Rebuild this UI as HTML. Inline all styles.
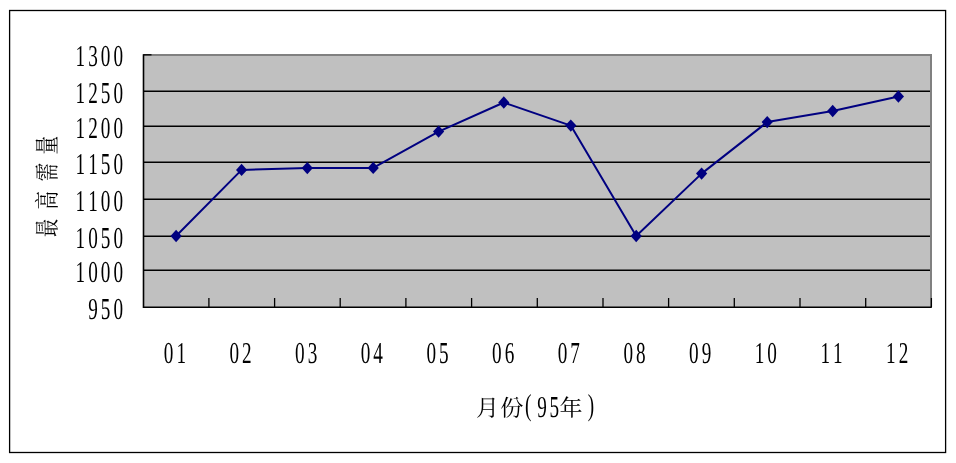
<!DOCTYPE html>
<html lang="zh-Hant"><head><meta charset="utf-8"><title>最高需量</title>
<style>html,body{margin:0;padding:0;background:#fff;}body{width:956px;height:463px;overflow:hidden;}svg{display:block;}text{text-rendering:geometricPrecision;}.n{font-family:"Liberation Serif","Noto Serif CJK SC",serif;font-size:30.4px;fill:#000;}.c{font-family:"Liberation Serif","Noto Serif CJK SC",serif;fill:#000;}</style></head><body>
<svg width="956" height="463" viewBox="0 0 956 463">
<rect x="0" y="0" width="956" height="463" fill="#fff"/>
<rect x="9.6" y="10.5" width="936" height="442" fill="none" stroke="#000" stroke-width="1.3"/>
<rect x="143.5" y="55.0" width="787.5" height="252.3" fill="#c0c0c0"/>
<path d="M143.5 55.0H931.0V307.3" fill="none" stroke="#808080" stroke-width="2"/>
<line x1="143.5" y1="91.3" x2="930.0" y2="91.3" stroke="#000" stroke-width="1.5"/>
<line x1="143.5" y1="126.3" x2="930.0" y2="126.3" stroke="#000" stroke-width="1.5"/>
<line x1="143.5" y1="162.2" x2="930.0" y2="162.2" stroke="#000" stroke-width="1.5"/>
<line x1="143.5" y1="199.3" x2="930.0" y2="199.3" stroke="#000" stroke-width="1.5"/>
<line x1="143.5" y1="236.2" x2="930.0" y2="236.2" stroke="#000" stroke-width="1.5"/>
<line x1="143.5" y1="270.2" x2="930.0" y2="270.2" stroke="#000" stroke-width="1.5"/>
<path d="M143.5 54.3V307.3H931.7" fill="none" stroke="#000" stroke-width="1.6"/>
<line x1="143.5" y1="54.8" x2="151.5" y2="54.8" stroke="#000" stroke-width="1.3"/>
<line x1="208.9" y1="298" x2="208.9" y2="307.3" stroke="#000" stroke-width="1.3"/>
<line x1="274.6" y1="298" x2="274.6" y2="307.3" stroke="#000" stroke-width="1.3"/>
<line x1="340.2" y1="298" x2="340.2" y2="307.3" stroke="#000" stroke-width="1.3"/>
<line x1="405.9" y1="298" x2="405.9" y2="307.3" stroke="#000" stroke-width="1.3"/>
<line x1="471.6" y1="298" x2="471.6" y2="307.3" stroke="#000" stroke-width="1.3"/>
<line x1="537.3" y1="298" x2="537.3" y2="307.3" stroke="#000" stroke-width="1.3"/>
<line x1="603.0" y1="298" x2="603.0" y2="307.3" stroke="#000" stroke-width="1.3"/>
<line x1="668.6" y1="298" x2="668.6" y2="307.3" stroke="#000" stroke-width="1.3"/>
<line x1="734.3" y1="298" x2="734.3" y2="307.3" stroke="#000" stroke-width="1.3"/>
<line x1="800.0" y1="298" x2="800.0" y2="307.3" stroke="#000" stroke-width="1.3"/>
<line x1="865.7" y1="298" x2="865.7" y2="307.3" stroke="#000" stroke-width="1.3"/>
<line x1="931.4" y1="298" x2="931.4" y2="307.3" stroke="#000" stroke-width="1.3"/>
<polyline fill="none" stroke="#000080" stroke-width="2" stroke-linejoin="round" points="176.1,236.0 241.6,169.9 307.3,168.1 373.2,167.9 438.6,131.6 503.8,102.5 570.8,125.6 636.2,236.0 701.6,173.6 767.2,122.1 832.7,111.0 898.4,96.5"/>
<path d="M176.1 229.8L181.7 236.0L176.1 242.2L170.5 236.0Z" fill="#000080"/>
<path d="M241.6 163.7L247.2 169.9L241.6 176.1L236.0 169.9Z" fill="#000080"/>
<path d="M307.3 161.9L312.9 168.1L307.3 174.3L301.7 168.1Z" fill="#000080"/>
<path d="M373.2 161.7L378.8 167.9L373.2 174.1L367.6 167.9Z" fill="#000080"/>
<path d="M438.6 125.4L444.2 131.6L438.6 137.8L433.0 131.6Z" fill="#000080"/>
<path d="M503.8 96.3L509.4 102.5L503.8 108.7L498.2 102.5Z" fill="#000080"/>
<path d="M570.8 119.4L576.4 125.6L570.8 131.8L565.2 125.6Z" fill="#000080"/>
<path d="M636.2 229.8L641.8 236.0L636.2 242.2L630.6 236.0Z" fill="#000080"/>
<path d="M701.6 167.4L707.2 173.6L701.6 179.8L696.0 173.6Z" fill="#000080"/>
<path d="M767.2 115.9L772.8 122.1L767.2 128.3L761.6 122.1Z" fill="#000080"/>
<path d="M832.7 104.8L838.3 111.0L832.7 117.2L827.1 111.0Z" fill="#000080"/>
<path d="M898.4 90.3L904.0 96.5L898.4 102.7L892.8 96.5Z" fill="#000080"/>
<text class="n" text-anchor="middle" transform="translate(0,66.2) scale(0.632,1)" x="127.22 147.15 167.09 187.03">1300</text>
<text class="n" text-anchor="middle" transform="translate(0,102.7) scale(0.632,1)" x="127.22 147.15 167.09 187.03">1250</text>
<text class="n" text-anchor="middle" transform="translate(0,137.7) scale(0.632,1)" x="127.22 147.15 167.09 187.03">1200</text>
<text class="n" text-anchor="middle" transform="translate(0,173.8) scale(0.632,1)" x="127.22 147.15 167.09 187.03">1150</text>
<text class="n" text-anchor="middle" transform="translate(0,210.6) scale(0.632,1)" x="127.22 147.15 167.09 187.03">1100</text>
<text class="n" text-anchor="middle" transform="translate(0,247.8) scale(0.632,1)" x="127.22 147.15 167.09 187.03">1050</text>
<text class="n" text-anchor="middle" transform="translate(0,281.9) scale(0.632,1)" x="127.22 147.15 167.09 187.03">1000</text>
<text class="n" text-anchor="middle" transform="translate(0,318.9) scale(0.632,1)" x="147.15 167.09 187.03">950</text>
<text class="n" text-anchor="middle" transform="translate(0,362.9) scale(0.632,1)" x="266.77 286.71">01</text>
<text class="n" text-anchor="middle" transform="translate(0,362.9) scale(0.632,1)" x="370.66 390.60">02</text>
<text class="n" text-anchor="middle" transform="translate(0,362.9) scale(0.632,1)" x="474.56 494.49">03</text>
<text class="n" text-anchor="middle" transform="translate(0,362.9) scale(0.632,1)" x="578.45 598.39">04</text>
<text class="n" text-anchor="middle" transform="translate(0,362.9) scale(0.632,1)" x="682.34 702.28">05</text>
<text class="n" text-anchor="middle" transform="translate(0,362.9) scale(0.632,1)" x="786.23 806.17">06</text>
<text class="n" text-anchor="middle" transform="translate(0,362.9) scale(0.632,1)" x="890.13 910.06">07</text>
<text class="n" text-anchor="middle" transform="translate(0,362.9) scale(0.632,1)" x="994.02 1013.96">08</text>
<text class="n" text-anchor="middle" transform="translate(0,362.9) scale(0.632,1)" x="1097.91 1117.85">09</text>
<text class="n" text-anchor="middle" transform="translate(0,362.9) scale(0.632,1)" x="1201.80 1221.74">10</text>
<text class="n" text-anchor="middle" transform="translate(0,362.9) scale(0.632,1)" x="1305.70 1325.63">11</text>
<text class="n" text-anchor="middle" transform="translate(0,362.9) scale(0.632,1)" x="1409.59 1429.53">12</text>
<g><text class="c" font-size="23" y="415.5" x="476 500.5">月份</text><text class="n" text-anchor="middle" transform="translate(0,416.5) scale(0.632,1)" x="835.76 857.59 876.90" y="-2 0 0">(95</text><text class="c" font-size="23" y="415.5" x="559.5">年</text><text class="n" text-anchor="middle" transform="translate(0,414.5) scale(0.632,1)" x="934.97">)</text></g>
<text class="c" font-size="25" transform="translate(56,237) rotate(-90) scale(0.74,1)" x="-0.5 37 75.4 111.5">最高需量</text>
</svg></body></html>
